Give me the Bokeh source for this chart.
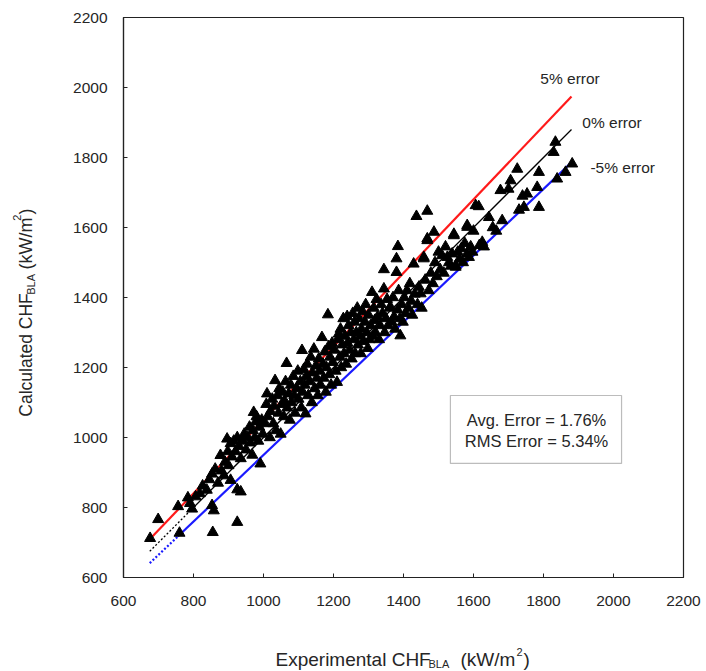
import math
from bokeh.plotting import figure
from bokeh.layouts import column, row
from bokeh.models import Range1d, FixedTicker, Label, BoxAnnotation, ColumnDataSource
from bokeh.embed import file_html
from bokeh.resources import INLINE

# ---------------- data ----------------
exp_chf = [
    676, 699, 756, 760, 784, 790, 796, 806, 818, 826, 838, 845, 853, 853, 855, 858, 862, 870, 877, 880, 887, 890, 896, 898,
    900, 906, 906, 910, 915, 920, 925, 925, 925, 930, 935, 935, 940, 945, 950, 955, 960, 962, 968, 970, 972, 975, 978, 980,
    985, 988, 991, 995, 998,
    1005, 1008, 1010, 1012, 1018, 1020, 1025, 1028, 1030, 1033, 1036, 1040, 1043, 1045, 1049, 1052, 1055, 1058, 1060, 1063,
    1066, 1068, 1072, 1075, 1078, 1080, 1085, 1088, 1090, 1095, 1098, 1100,
    1105, 1108, 1110, 1112, 1115, 1118, 1120, 1122, 1125, 1128, 1132, 1135, 1138, 1140, 1144, 1146, 1150, 1152, 1155, 1158,
    1160, 1163, 1167, 1170, 1172, 1175, 1178, 1180, 1184, 1186, 1188, 1190, 1193, 1196, 1198,
    1203, 1206, 1210, 1212, 1215, 1218, 1220, 1222, 1225, 1228, 1230, 1233, 1236, 1239, 1240, 1243, 1246, 1250, 1252, 1255,
    1258, 1260, 1262, 1265, 1268, 1270, 1273, 1276, 1278, 1280, 1283, 1286, 1290, 1292, 1295, 1298,
    1300, 1303, 1306, 1310, 1312, 1315, 1318, 1320, 1323, 1326, 1330, 1333, 1336, 1340, 1344, 1344, 1346, 1350, 1353, 1356,
    1360, 1363, 1366, 1370, 1373, 1376, 1380, 1380, 1384, 1383, 1386, 1390, 1391, 1395, 1398,
    1402, 1406, 1410, 1414, 1418, 1422, 1425, 1429, 1432, 1437, 1440, 1444, 1449, 1452, 1458, 1458, 1462, 1468, 1468, 1468,
    1472, 1478, 1484, 1487, 1490, 1495,
    1500, 1505, 1510, 1515, 1520, 1525, 1530, 1535, 1539, 1544, 1544, 1549, 1549, 1555, 1560, 1565, 1570, 1575, 1582, 1582,
    1582, 1587, 1592, 1597,
    1600, 1606, 1615, 1617, 1625, 1630, 1644, 1655, 1665, 1677, 1682, 1700, 1706, 1725, 1730, 1740, 1744, 1753, 1782, 1787,
    1787, 1829, 1834, 1839, 1863, 1882,
]
calc_chf = [
    712, 766, 803, 727, 828, 812, 796, 831, 840, 862, 850, 880, 896, 806, 729, 791, 910, 870, 949, 905, 891, 930, 996, 960,
    920, 983, 878, 945, 990, 960, 1000, 758, 851, 975, 940, 845, 990, 1010, 965, 1000, 1030, 985, 950, 1020, 1072, 1000, 1045, 1060,
    990, 1030, 925, 1050, 1010,
    1040, 1095, 1125, 1060, 1000, 1075, 1110, 1040, 1090, 1163, 1020, 1120, 1070, 1140, 1010, 1095, 1130, 1060, 1105, 1160,
    1212, 1085, 1125, 1050, 1150, 1100, 1175, 1120, 1070, 1140, 1190, 1110,
    1160, 1085, 1249, 1130, 1195, 1150, 1068, 1175, 1210, 1120, 1160, 1230, 1100, 1185, 1253, 1140, 1205, 1170, 1120, 1225,
    1190, 1150, 1286, 1210, 1170, 1245, 1130, 1200, 1351, 1260, 1180, 1230, 1150, 1270, 1215,
    1250, 1190, 1158, 1280, 1296, 1230, 1310, 1200, 1265, 1340, 1240, 1290, 1210, 1346, 1270, 1320, 1250, 1300, 1225, 1355,
    1280, 1330, 1240, 1300, 1370, 1265, 1340, 1290, 1240, 1310, 1360, 1275, 1330, 1380, 1300, 1255,
    1350, 1280, 1320, 1415, 1290, 1370, 1335, 1300, 1395, 1345, 1280, 1320, 1380, 1355, 1480, 1425, 1300, 1340, 1395, 1320,
    1370, 1372, 1330, 1400, 1345, 1310, 1511, 1472, 1546, 1365, 1420, 1340, 1291, 1380, 1330,
    1400, 1355, 1420, 1370, 1440, 1390, 1350, 1496, 1410, 1632, 1380, 1430, 1411, 1370, 1511, 1515, 1450, 1647, 1563, 1568,
    1420, 1470, 1440, 1587, 1500, 1460,
    1530, 1480, 1520, 1470, 1545, 1515, 1500, 1490, 1525, 1577, 1581, 1491, 1487, 1530, 1510, 1540, 1500, 1555, 1606, 1601,
    1525, 1515, 1545, 1530,
    1590, 1663, 1660, 1549, 1558, 1545, 1629, 1600, 1590, 1706, 1620, 1710, 1734, 1767, 1650, 1690, 1658, 1696, 1715, 1758,
    1658, 1815, 1844, 1739, 1758, 1782,
]

axis_ticks = [600, 800, 1000, 1200, 1400, 1600, 1800, 2000, 2200]

# reference lines (exp -> calc) for 0%, +5%, -5%
zero_dot_x = [675, 790]
zero_dot_y = [675, 790]
zero_x = [790, 1880]
zero_y = [790, 1880]
plus5_x = [675, 1880]
plus5_y = [709, 1974]
minus5_dot_x = [675, 755]
minus5_dot_y = [641, 717]
minus5_x = [755, 1880]
minus5_y = [717, 1786]

avg_error_text = "Avg. Error = 1.76%"
rms_error_text = "RMS Error = 5.34%"

FONT = "Liberation Sans"
TXT = "#262626"

W, H = 706, 671
YLAB_W = 50          # width of the strip holding the y title
XLAB_H = 51          # height of the strip holding the x title
MAIN_W, MAIN_H = W - YLAB_W, H - XLAB_H

p = figure(width=MAIN_W, height=MAIN_H, output_backend="svg", toolbar_location=None,
           title=None, x_range=Range1d(600, 2200), y_range=Range1d(600, 2200),
           min_border_left=123 - YLAB_W, min_border_right=W - 683, min_border_top=17,
           min_border_bottom=MAIN_H - 577)
p.background_fill_color = "white"
p.border_fill_color = "white"
p.outline_line_color = "#222222"
p.outline_line_width = 1.2
p.xgrid.visible = False
p.ygrid.visible = False

for ax in (p.xaxis[0], p.yaxis[0]):
    ax.ticker = FixedTicker(ticks=axis_ticks)
    ax.major_tick_in = 4
    ax.major_tick_out = 0
    ax.minor_tick_line_color = None
    ax.axis_line_color = "#222222"
    ax.axis_line_width = 1.2
    ax.major_tick_line_color = "#222222"
    ax.major_label_text_font = FONT
    ax.major_label_text_font_size = "15.5px"
    ax.major_label_text_color = TXT
    ax.axis_label = None
p.xaxis.major_label_standoff = 18
p.yaxis.major_label_standoff = 16

# lines
p.line(plus5_x, plus5_y, line_color="#ff1a1a", line_width=2.2)
p.line(zero_dot_x, zero_dot_y, line_color="black", line_width=1.3, line_dash="2 2")
p.line(zero_x, zero_y, line_color="black", line_width=1.3)
p.line(minus5_dot_x, minus5_dot_y, line_color="#1a1aff", line_width=2.2, line_dash="2 2")
p.line(minus5_x, minus5_y, line_color="#1a1aff", line_width=2.2)

# data points
src = ColumnDataSource(dict(x=exp_chf, y=calc_chf))
p.scatter("x", "y", source=src, marker="triangle", size=11, fill_color="black", line_color="black")

# line labels
for txt, xx, yy in [("5% error", 1791, 2026), ("0% error", 1911, 1900), ("-5% error", 1934, 1771)]:
    p.add_layout(Label(x=xx, y=yy, text=txt, text_font=FONT, text_font_size="15.5px",
                       text_color=TXT, text_align="left", text_baseline="middle"))

# stats box
p.add_layout(BoxAnnotation(left=1534, right=2023, bottom=926, top=1120, fill_color="white", fill_alpha=1,
                           line_color="#222222", line_width=1.2))
p.add_layout(Label(x=1780, y=1049, text=avg_error_text, text_font=FONT, text_font_size="16.5px",
                   text_color=TXT, text_align="center", text_baseline="middle"))
p.add_layout(Label(x=1780, y=989, text=rms_error_text, text_font=FONT, text_font_size="16.5px",
                   text_color=TXT, text_align="center", text_baseline="middle"))


def blank(w, h):
    f = figure(width=w, height=h, output_backend="svg", toolbar_location=None, title=None,
               x_range=Range1d(0, w), y_range=Range1d(0, h), x_axis_type=None, y_axis_type=None,
               min_border=0, min_border_left=0, min_border_right=0, min_border_top=0, min_border_bottom=0)
    f.outline_line_color = None
    f.xgrid.visible = False
    f.ygrid.visible = False
    f.background_fill_color = "white"
    f.border_fill_color = "white"
    return f


# y title strip: page x in [0, 50), y in [0, 620)
ylab = blank(YLAB_W, MAIN_H)
# x title strip: page y in [620, 671)
xlab = blank(W, XLAB_H)


def put(fig, x, y, text, size, angle=0.0, baseline="alphabetic"):
    fig.add_layout(Label(x=x, y=y, text=text, angle=angle, text_font=FONT, text_font_size=size,
                         text_color=TXT, text_align="left", text_baseline=baseline))


# x title (x in page pixels, y measured from strip bottom)
xb = H
put(xlab, 275, xb - 659, "Experimental CHF", "19px")
put(xlab, 428, xb - 663, "BLA", "11px")
put(xlab, 460, xb - 659, "(kW/m", "19px")
put(xlab, 516, xb - 651, "2", "11px")
put(xlab, 523, xb - 659, ")", "19px")

# y title (rotated)
A = math.pi / 2
yb = MAIN_H
put(ylab, 25, yb - 442, "Calculated CHF", "17.5px", A, "middle")
put(ylab, 30, yb - 307, "BLA", "11px", A, "middle")
put(ylab, 25, yb - 279, "(kW/m", "18px", A, "middle")
put(ylab, 16, yb - 225, "2", "11px", A, "middle")
put(ylab, 25, yb - 218, ")", "18px", A, "middle")

layout = column(row(ylab, p, spacing=0), xlab, spacing=0)

open("out.html", "w").write(file_html(layout, INLINE))
